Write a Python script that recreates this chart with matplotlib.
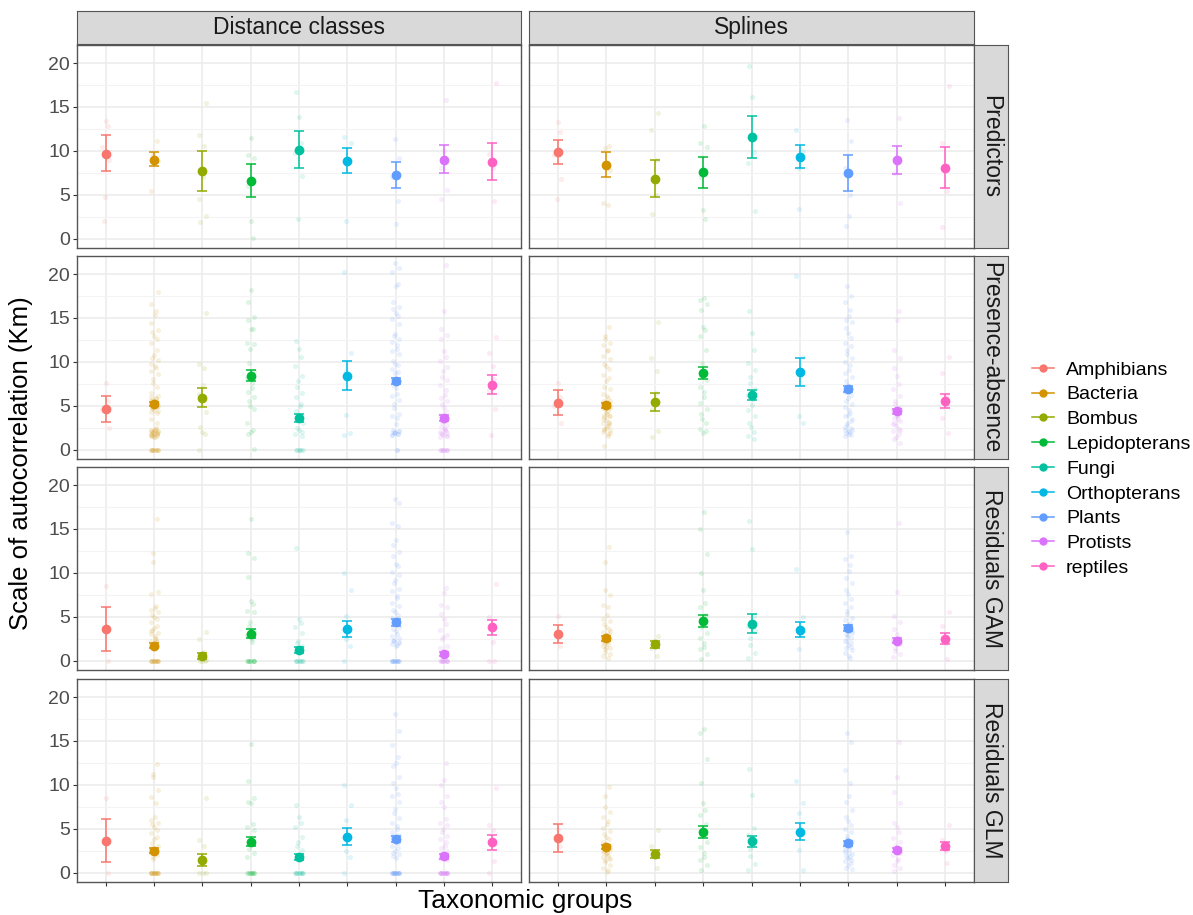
import numpy as np
import matplotlib.pyplot as plt
from matplotlib.lines import Line2D
from matplotlib.ticker import MultipleLocator

plt.rcParams['font.family'] = ['Liberation Sans', 'DejaVu Sans']

groups = ['Amphibians', 'Bacteria', 'Bombus', 'Lepidopterans', 'Fungi',
          'Orthopterans', 'Plants', 'Protists', 'reptiles']
colors = ['#F8766D', '#D39200', '#93AA00', '#00BA38', '#00C19F',
          '#00B9E3', '#619CFF', '#DB72FB', '#FF61C3']
methods = ['Distance classes', 'Splines']
responses = ['Predictors', 'Presence-absence', 'Residuals GAM', 'Residuals GLM']

# means and CI limits, one row per response (Predictors, PA, GAM, GLM)
mean_dc = [[9.70, 9.02, 7.74, 6.57, 10.08, 8.87, 7.25, 9.02, 8.75],
           [4.62, 5.23, 5.91, 8.45, 3.60, 8.45, 7.80, 3.67, 7.42],
           [3.60, 1.67, 0.53, 3.03, 1.21, 3.60, 4.36, 0.76, 3.79],
           [3.61, 2.50, 1.44, 3.53, 1.78, 4.10, 3.80, 1.90, 3.45]]
lo_dc = [[7.66, 8.23, 5.47, 4.72, 8.08, 7.47, 5.77, 7.43, 6.68],
         [3.11, 4.96, 4.85, 7.77, 3.18, 6.78, 7.46, 3.33, 6.33],
         [1.06, 1.40, 0.19, 2.54, 0.87, 2.65, 3.98, 0.49, 2.92],
         [1.18, 2.24, 0.80, 3.00, 1.48, 3.15, 3.45, 1.59, 2.54]]
hi_dc = [[11.81, 9.85, 10.04, 8.49, 12.23, 10.30, 8.68, 10.68, 10.87],
         [6.17, 5.49, 7.01, 9.13, 4.05, 10.15, 8.14, 3.98, 8.48],
         [6.14, 1.97, 0.91, 3.56, 1.52, 4.58, 4.70, 1.02, 4.66],
         [6.11, 2.77, 2.13, 4.10, 2.13, 5.09, 4.14, 2.16, 4.33]]

mean_sp = [[9.89, 8.42, 6.83, 7.55, 11.55, 9.36, 7.47, 8.94, 8.11],
           [5.34, 5.08, 5.42, 8.75, 6.21, 8.83, 6.93, 4.36, 5.53],
           [3.07, 2.54, 1.86, 4.51, 4.20, 3.52, 3.71, 2.27, 2.50],
           [3.91, 2.92, 2.16, 4.63, 3.57, 4.67, 3.34, 2.58, 3.04]]
lo_sp = [[8.49, 7.02, 4.79, 5.81, 9.17, 8.11, 5.47, 7.32, 5.81],
         [3.98, 4.81, 4.36, 8.03, 5.64, 7.31, 6.59, 4.05, 4.70],
         [2.05, 2.27, 1.40, 3.83, 3.11, 2.65, 3.41, 1.97, 1.89],
         [2.39, 2.66, 1.71, 3.98, 2.96, 3.68, 3.04, 2.35, 2.54]]
hi_sp = [[11.28, 9.85, 8.91, 9.36, 13.92, 10.64, 9.58, 10.60, 10.42],
         [6.78, 5.34, 6.48, 9.47, 6.78, 10.45, 7.23, 4.66, 6.36],
         [4.09, 2.80, 2.27, 5.19, 5.30, 4.36, 4.02, 2.58, 3.11],
         [5.50, 3.19, 2.62, 5.27, 4.21, 5.65, 3.64, 2.85, 3.49]]

# raw estimates per dataset (faint jittered points)
pts_dc_pred = [
    [13.4, 12.8, 10.5, 9.0, 4.8, 2.0],
    [11.1, 9.7, 9.3, 8.8, 5.4],
    [15.4, 11.8, 10.6, 7.0, 4.5, 2.6, 1.9],
    [11.5, 9.5, 9.2, 6.0, 2.0, 0.1],
    [16.7, 13.8, 10.9, 9.8, 7.2, 2.2],
    [11.6, 10.9, 8.5, 2.0],
    [11.4, 9.2, 7.0, 4.3, 1.7],
    [15.8, 10.0, 8.0, 5.6, 4.5],
    [17.7, 9.7, 8.0, 4.3]]
pts_sp_pred = [
    [13.3, 12.1, 9.5, 6.8, 4.5],
    [10.6, 10.3, 8.5, 7.8, 4.1, 3.9],
    [14.3, 12.4, 9.0, 5.0, 2.8],
    [12.8, 10.9, 10.5, 7.0, 3.3, 2.2],
    [19.7, 16.1, 9.9, 8.6, 3.2],
    [12.4, 10.0, 8.0, 3.4],
    [13.5, 11.1, 8.0, 5.0, 2.6, 1.4],
    [13.7, 9.0, 7.5, 4.1],
    [17.4, 10.9, 8.0, 5.4, 1.3]]
pts_dc_pa = [
    [7.6, 5.5, 4.5, 2.5],
    [0, 0, 0, 0, 0, 0, 0, 0, 0, 0, 1.5, 1.6, 1.7, 1.8, 1.9, 2.0, 2.1, 2.2,
     2.3, 2.5, 1.6, 1.8, 2.0, 1.7, 1.9, 2.1, 2.4, 1.5, 1.8, 2.0, 1.6, 2.2,
     3.0, 3.5, 4.2, 4.5, 4.8, 5.0, 5.2, 5.5, 5.8, 6.0, 4.4, 4.7, 5.1, 5.4,
     5.7, 4.9, 5.3, 5.6, 6.1, 4.3, 5.0, 5.9, 6.5, 7.2, 7.6, 8.0, 8.6, 9.0,
     9.3, 9.5, 9.8, 10.2, 10.4, 10.8, 11.3, 12.1, 12.6, 12.9, 13.4, 13.6,
     14.4, 15.3, 15.8, 16.6, 18.0],
    [15.6, 9.8, 9.3, 7.4, 6.4, 4.3, 2.6, 2.0, 1.8, 0.0],
    [18.2, 16.8, 15.1, 14.8, 13.8, 13.7, 12.2, 12.0, 11.5, 9.9, 9.0, 8.2,
     7.6, 7.0, 6.6, 6.0, 5.5, 5.0, 4.6, 3.1, 2.2, 2.0, 1.8, 0.1],
    [12.4, 11.5, 10.6, 9.5, 8.4, 7.8, 7.2, 6.5, 6.0, 5.2, 5.0, 4.4, 3.1,
     2.5, 2.2, 2.0, 1.8, 1.6, 0, 0, 0, 0, 0, 0],
    [20.2, 11.0, 9.0, 4.0, 1.9, 1.7],
    [21.2, 20.7, 20.2, 18.9, 18.6, 16.8, 16.2, 16.0, 15.6, 15.2, 14.9, 14.3,
     13.2, 12.9, 12.6, 12.3, 11.9, 11.5, 11.2, 10.9, 10.1, 9.8, 9.6, 9.2,
     8.9, 8.7, 8.1, 7.7, 7.4, 7.0, 6.4, 6.1, 5.7, 5.2, 4.8, 4.1, 3.9, 3.6,
     2.9, 2.2, 2.1, 2.0, 1.9, 1.8, 1.7, 1.8, 2.0, 1.9, 2.1, 1.7, 0.0, 0.0],
    [21.0, 15.8, 13.7, 13.1, 12.6, 11.2, 10.6, 10.1, 9.4, 9.0, 8.3, 7.9,
     7.4, 6.8, 6.2, 5.9, 5.6, 5.2, 4.9, 4.4, 4.0, 3.6, 3.3, 3.0, 2.8, 2.6,
     2.4, 2.2, 2.0, 1.9, 1.8, 1.7, 1.6, 1.5, 2.1, 2.5, 1.9, 1.6,
     0, 0, 0, 0, 0, 0, 0, 0],
    [12.8, 11.0, 9.5, 8.0, 6.8, 4.6, 1.7]]
pts_sp_pa = [
    [7.6, 6.0, 5.0, 3.1],
    [14.0, 12.9, 12.6, 12.1, 11.9, 11.4, 11.2, 10.7, 10.3, 9.8, 9.5, 9.2,
     8.5, 8.2, 7.8, 7.2, 6.9, 6.4, 6.1, 5.9, 5.6, 5.5, 5.2, 5.0, 4.8, 4.7,
     4.4, 4.1, 4.0, 3.8, 3.7, 3.4, 3.2, 3.1, 2.8, 2.5, 2.4, 2.2, 2.0, 1.8,
     1.6, 5.3, 5.1, 4.6, 4.3, 3.9, 3.5, 3.0, 2.7, 2.3, 1.9, 0.4],
    [14.5, 10.5, 9.0, 6.5, 4.6, 2.1, 1.4],
    [17.3, 17.0, 16.6, 15.9, 14.0, 13.6, 12.9, 11.4, 9.9, 8.4, 7.9, 7.2,
     6.6, 6.0, 5.3, 4.6, 4.1, 3.5, 3.0, 2.4, 2.1, 1.9],
    [15.8, 13.3, 11.4, 9.9, 9.1, 8.3, 7.6, 6.9, 6.2, 5.8, 5.1, 4.5, 3.8,
     3.1, 2.6, 2.0, 1.6, 1.2],
    [19.8, 10.6, 9.0, 3.8, 3.1],
    [18.6, 17.5, 16.8, 15.9, 15.2, 14.8, 14.5, 13.9, 13.3, 12.7, 12.2, 11.8,
     11.4, 10.9, 10.5, 10.0, 9.6, 9.1, 8.7, 8.3, 7.8, 7.4, 7.0, 6.6, 6.2,
     5.9, 5.6, 5.2, 4.9, 4.5, 4.2, 3.8, 3.5, 3.1, 2.8, 2.5, 2.2, 2.0, 1.8,
     1.6, 2.3, 1.9, 2.1, 1.7, 2.6, 3.3, 4.0],
    [15.8, 14.8, 11.4, 10.5, 9.3, 8.4, 7.5, 6.9, 6.1, 5.6, 5.2, 4.8, 4.5,
     4.2, 3.9, 3.6, 3.3, 3.0, 2.7, 2.4, 2.1, 1.8, 1.5, 1.2, 0.8, 4.4, 4.0,
     3.5, 2.9, 2.3],
    [10.6, 8.7, 6.1, 5.0, 3.6, 1.9]]
pts_dc_gam = [
    [8.5, 0.0],
    [16.1, 12.3, 11.2, 7.8, 7.6, 6.2, 6.0, 5.8, 5.5, 5.2, 5.0, 4.7, 4.4,
     4.0, 3.7, 3.5, 3.2, 3.0, 2.8, 2.5, 2.3, 2.1, 1.9, 1.8, 1.7, 1.6, 2.2,
     2.6, 3.4, 0, 0, 0, 0, 0, 0, 0, 0, 0, 0, 0, 0],
    [3.3, 2.5, 1.0, 0.6, 0.3, 0.1, 0, 0, 0],
    [16.1, 12.3, 11.7, 9.5, 6.8, 6.5, 5.7, 5.5, 4.4, 4.0, 3.4, 2.9, 2.5,
     2.1, 0, 0, 0, 0, 0, 0, 0, 0, 0, 0],
    [12.8, 4.7, 4.3, 3.8, 3.2, 2.3, 2.0, 1.7, 0, 0, 0, 0, 0, 0, 0, 0],
    [10.0, 8.1, 5.1, 2.5, 1.7, 0],
    [18.4, 18.0, 15.7, 15.3, 13.8, 13.2, 12.4, 11.9, 11.0, 10.8, 10.1, 9.8,
     9.2, 8.9, 8.2, 7.9, 7.4, 7.1, 6.6, 6.2, 5.8, 5.5, 5.2, 4.9, 4.7, 4.5,
     4.2, 3.9, 3.6, 3.4, 3.1, 2.8, 2.6, 2.4, 2.2, 2.0, 1.9, 1.8, 1.7, 2.3,
     2.1, 0, 0, 0, 0, 0, 0, 0, 0, 0, 0, 0, 0],
    [8.3, 7.7, 6.3, 6.1, 5.3, 4.8, 4.2, 3.5, 2.9, 2.7, 2.5, 1.7, 1.4, 1.0,
     0.6, 0, 0, 0, 0, 0, 0, 0, 0, 0, 0],
    [8.7, 5.0, 2.1, 0, 0]]
pts_sp_gam = [
    [5.1, 1.7],
    [13.0, 11.2, 8.0, 7.5, 6.4, 6.1, 5.2, 4.8, 4.5, 4.2, 3.9, 3.6, 3.3, 3.1,
     2.9, 2.7, 2.5, 2.3, 2.1, 1.9, 1.7, 1.5, 1.3, 1.0, 0.8, 0.5, 0.3, 2.4,
     2.8, 3.4, 2.0, 1.6],
    [2.8, 1.5, 0.6],
    [16.9, 15.0, 12.2, 10.0, 8.0, 6.6, 6.1, 5.2, 4.3, 3.8, 3.2, 2.6, 2.0,
     1.6, 1.3, 0.8, 0.2],
    [15.9, 12.7, 5.1, 4.0, 3.5, 2.6, 1.8, 0.9, 0.3],
    [10.4, 5.0, 1.3],
    [14.6, 11.9, 11.6, 10.9, 10.2, 9.4, 8.8, 8.0, 7.6, 7.0, 6.6, 6.1, 5.7,
     5.3, 4.9, 4.6, 4.3, 4.0, 3.7, 3.4, 3.1, 2.9, 2.6, 2.3, 2.0, 1.8, 1.5,
     1.2, 0.9, 0.6, 0.3, 3.8, 3.2, 2.7, 2.2, 1.6],
    [15.7, 7.8, 5.1, 4.4, 3.6, 3.0, 2.6, 2.2, 1.9, 1.5, 1.1, 0.8, 0.4],
    [5.6, 4.0, 2.0, 0.2]]
pts_dc_glm = [
    [8.5, 0],
    [12.4, 11.2, 10.9, 9.4, 8.6, 7.9, 6.4, 6.0, 5.7, 5.5, 5.2, 4.9, 4.5,
     4.1, 3.8, 3.4, 3.1, 2.8, 2.6, 2.4, 2.2, 2.0, 1.8, 1.6, 2.5, 2.7, 2.3,
     0, 0, 0, 0, 0, 0, 0, 0, 0, 0, 0, 0, 0, 0],
    [8.5, 3.7, 3.0, 0, 0, 0],
    [14.6, 10.4, 8.5, 8.1, 7.9, 5.6, 5.2, 4.9, 3.3, 2.7, 2.3, 1.8,
     0, 0, 0, 0, 0, 0, 0, 0, 0, 0],
    [7.7, 6.4, 5.7, 5.2, 4.1, 3.5, 3.0, 2.6, 0, 0, 0, 0, 0, 0, 0, 0, 0, 0],
    [10.0, 7.7, 6.0, 2.5, 1.8, 0],
    [18.1, 16.1, 14.5, 13.2, 12.5, 12.1, 10.9, 10.2, 9.6, 9.0, 8.7, 8.0,
     7.3, 6.8, 6.2, 5.7, 5.3, 5.0, 4.6, 4.3, 4.0, 3.7, 3.4, 3.1, 2.8, 2.5,
     2.3, 2.1, 1.9, 1.7, 3.9, 4.2, 0, 0, 0, 0, 0, 0, 0, 0, 0, 0, 0, 0, 0,
     0, 0],
    [12.5, 10.6, 10.0, 8.7, 8.0, 7.5, 6.1, 5.7, 5.4, 5.0, 4.6, 4.2, 3.8,
     3.5, 3.1, 2.8, 2.5, 2.2, 2.0, 1.8, 1.6, 1.4, 1.9, 2.1, 0, 0, 0, 0, 0,
     0, 0, 0, 0, 0, 0, 0, 0, 0, 0],
    [9.6, 5.4, 4.9, 1.3, 0]]
pts_sp_glm = [
    [5.0, 3.0],
    [9.8, 8.7, 7.5, 6.9, 6.4, 5.9, 5.5, 5.1, 4.7, 4.4, 4.1, 3.8, 3.5, 3.2,
     3.0, 2.8, 2.6, 2.4, 2.2, 2.0, 1.8, 1.6, 1.4, 1.2, 0.9, 0.6, 0.3, 0.1,
     3.3, 2.9, 2.5, 2.1, 1.7],
    [4.9, 3.1, 0.5],
    [16.4, 15.9, 13.0, 10.2, 7.9, 7.2, 6.6, 5.6, 4.8, 4.2, 3.5, 2.9, 2.3,
     1.8, 1.4, 0.9, 0.3],
    [11.8, 8.8, 5.1, 4.3, 3.6, 2.7, 1.9, 1.0, 0.3],
    [10.4, 7.9, 6.8, 2.6, 0.3],
    [15.9, 14.9, 11.7, 10.2, 8.7, 8.0, 7.2, 6.4, 5.9, 5.4, 5.0, 4.6, 4.2,
     3.9, 3.6, 3.3, 3.0, 2.7, 2.4, 2.1, 1.9, 1.7, 1.5, 1.3, 1.1, 0.9, 0.6,
     0.4, 2.6, 2.2, 1.8, 3.1],
    [14.9, 10.9, 9.2, 7.9, 5.7, 5.2, 4.6, 4.0, 3.5, 3.0, 2.6, 2.3, 2.0, 1.6,
     1.3, 0.9, 0.5, 0.2],
    [5.4, 3.7, 2.5, 1.1]]

pts = {'Distance classes': [pts_dc_pred, pts_dc_pa, pts_dc_gam, pts_dc_glm],
       'Splines': [pts_sp_pred, pts_sp_pa, pts_sp_gam, pts_sp_glm]}
stats = {'Distance classes': (mean_dc, lo_dc, hi_dc),
         'Splines': (mean_sp, lo_sp, hi_sp)}

W, H = 1193, 915
fig = plt.figure(figsize=(W / 100, H / 100), dpi=100)


def px_axes(x, y, w, h):
    return fig.add_axes([x / W, 1 - (y + h) / H, w / W, h / H])


border = '#555555'
col_x = [77, 529]
col_w = [444, 445]
row_y = [45, 256, 467, 679]
row_h = 203
xpos = np.arange(1, len(groups) + 1)

for c, method in enumerate(methods):
    mean, lo, hi = stats[method]
    for r, resp in enumerate(responses):
        ax = px_axes(col_x[c], row_y[r], col_w[c], row_h)
        ax.set_xlim(0.4, 9.6)
        ax.set_ylim(-1.05, 22.05)
        ax.set_xticks(xpos)
        ax.set_yticks([0, 5, 10, 15, 20])
        ax.yaxis.set_minor_locator(MultipleLocator(2.5))
        ax.grid(which='major', color='#EBEBEB', lw=1.1)
        ax.grid(which='minor', axis='y', color='#F3F3F3', lw=0.8)
        ax.set_axisbelow(True)
        for s in ax.spines.values():
            s.set_color(border)
            s.set_linewidth(1.0)

        for i, vals in enumerate(pts[method][r]):
            offs = 0.075 * np.sin(np.arange(len(vals)) * 2.4 + i)
            ax.scatter(xpos[i] + offs, vals, s=9, color=colors[i],
                       alpha=0.12, lw=0.4, zorder=2)
        for i in range(len(groups)):
            m = mean[r][i]
            ax.errorbar(xpos[i], m, yerr=[[m - lo[r][i]], [hi[r][i] - m]],
                        fmt='o', color=colors[i], ms=6, capsize=3.6,
                        elinewidth=1.1, capthick=1.1, zorder=3)

        ax.tick_params(which='both', length=3, width=0.8, color='#333333',
                       labelsize=14, labelcolor='#4D4D4D', pad=2)
        ax.tick_params(which='minor', left=False)
        ax.tick_params(axis='x', labelbottom=False, bottom=(r == 3))
        ax.tick_params(axis='y', labelleft=(c == 0), left=(c == 0))

# facet strips
for c, method in enumerate(methods):
    st = px_axes(col_x[c], 11, col_w[c], 33)
    st.set_facecolor('#D9D9D9')
    st.set_xticks([])
    st.set_yticks([])
    for s in st.spines.values():
        s.set_color(border)
    st.text(0.5, 0.5, method, ha='center', va='center', fontsize=16.5,
            color='#1A1A1A', transform=st.transAxes)
for r, resp in enumerate(responses):
    st = px_axes(974, row_y[r], 34, row_h)
    st.set_facecolor('#D9D9D9')
    st.set_xticks([])
    st.set_yticks([])
    for s in st.spines.values():
        s.set_color(border)
    st.text(0.5, 0.5, resp, ha='center', va='center', fontsize=16.5,
            color='#1A1A1A', rotation=270, transform=st.transAxes)

fig.text(21 / W, 1 - 463 / H, 'Scale of autocorrelation (Km)',
         rotation=90, ha='center', va='center', fontsize=18.5)
fig.text(525 / W, 1 - 901 / H, 'Taxonomic groups', ha='center',
         va='center', fontsize=19)

handles = [Line2D([], [], color=col, marker='o', ms=5, lw=1.1)
           for col in colors]
fig.legend(handles, groups, loc='upper left',
           bbox_to_anchor=(1032 / W, 1 - 361 / H), frameon=False,
           fontsize=14, labelspacing=0.37, handlelength=1.15,
           handletextpad=0.6, borderpad=0, borderaxespad=0)

fig.savefig('out.png', dpi=100)
